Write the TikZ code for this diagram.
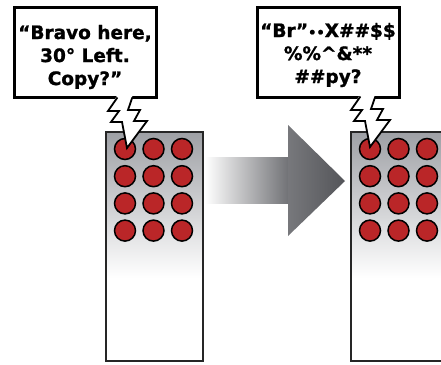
\documentclass[tikz,border=0pt]{standalone}
\usepackage{fontspec}
\setmainfont{DejaVu Sans}
\newfontfamily\heavyfont{DejaVu Sans Bold}[FakeBold=1.2]
\begin{document}
\begin{tikzpicture}[x=1pt,y=-1pt,
  bubble/.style={draw=black, line width=3pt, fill=white},
  saytext/.style={font=\heavyfont\fontsize{18.5}{23}\selectfont, align=center, inner sep=0pt},
  devbody/.style={draw=black!85, line width=1.5pt},
  led/.style={circle, draw=black, line width=1.5pt, fill=ledred, minimum size=21pt, inner sep=0pt},
  boltline/.style={draw=black, line width=1.8pt, line join=miter}]
\definecolor{ledred}{RGB}{186,38,40}
\definecolor{devgray}{RGB}{158,160,165}
\definecolor{arrowmid}{RGB}{112,113,117}
\definecolor{arrowdark}{RGB}{84,85,89}
\useasboundingbox (0,0) rectangle (441,364);
\clip (0,0) rectangle (441,364);

% big transfer arrow between the two radios
\shade[left color=white, right color=arrowmid] (205,157) rectangle (289,203);
\shade[left color=arrowmid!95!white, right color=arrowdark] (288,125) -- (345,181) -- (288,236) -- cycle;

% radio bodies with faded top
\foreach \name/\x in {rA/106, rB/351}{
  \fill[white] (\x,132) rectangle ++(97,229);
  \shade[top color=devgray, bottom color=white] (\x,132) rectangle ++(97,146);
  \draw[devbody] (\x,132) rectangle ++(97,229);
  \foreach \c in {0,1,2}
    \foreach \r in {0,1,2,3}
      \node[led] (\name-\r-\c) at (\x+19+28.5*\c, 149+27.2*\r) {};
}

% speech bubbles
\draw[bubble] (14,7) rectangle (156,97);
\draw[bubble] (257,7) rectangle (399,97);
\node[saytext] (sayA) at (85,57) {“Bravo here,\\30° Left.\\Copy?”};
\node[saytext] (sayB) at (328,55) {“Br”{\fontsize{13}{13}\selectfont••}X\#\#\$\$\\\%\%\^{}\&**\\\#\#py?};

% lightning-bolt tails joining each bubble to its first led
\foreach \tx/\ty in {127/148, 370/147}{
  \begin{scope}[shift={(\tx,\ty)}]
    \fill[white] (-9,-54) -- (-19,-37) -- (-8,-37) -- (-16,-26) -- (-5,-26) -- (0,0)
      -- (20,-27) -- (7,-27) -- (13,-38) -- (1,-38) -- (6,-54) -- cycle;
    \draw[boltline] (-9.6,-50.5) -- (-19,-37) -- (-8,-37) -- (-16,-26) -- (-5,-26) -- (0,0)
      -- (20,-27) -- (7,-27) -- (13,-38) -- (1,-38) -- (5.3,-50.5);
  \end{scope}
}
\end{tikzpicture}
\end{document}
